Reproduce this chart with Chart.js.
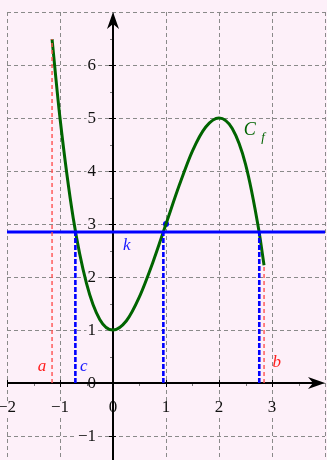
<!DOCTYPE html>
<html>
<head>
<meta charset="utf-8">
<script src="https://cdn.jsdelivr.net/npm/chart.js@4.4.0/dist/chart.umd.min.js"></script>
<style>
  html, body { margin: 0; padding: 0; background: #fdf0f9; }
  #wrap { width: 327px; height: 460px; }
</style>
</head>
<body>
<div id="wrap"><canvas id="graph"></canvas></div>
<script>
// courbe C_f (points relevés)
const curveX = [-1.15, -1, -0.75, -0.5, -0.25, 0, 0.25, 0.5, 0.75, 1, 1.25, 1.5, 1.75, 2, 2.25, 2.5, 2.75, 2.85];
const curveY = [6.49, 5.0, 3.11, 1.88, 1.2, 1.0, 1.17, 1.63, 2.27, 3.0, 3.73, 4.38, 4.83, 5.0, 4.8, 4.13, 2.89, 2.22];

// bornes a et b, niveau k et ses antécédents
const boundsX = [-1.15, 2.85];
const boundsY = [6.49, 2.22];
const kLevel = 2.85;
const kRoots = [-0.71, 0.95, 2.76];
const markPoint = [1, 3];

// graduations
const xTicks = [-2, -1, 0, 1, 2, 3];
const yTicks = [-1, 0, 1, 2, 3, 4, 5, 6];
const gridX = [-2, -1, 0, 1, 2, 3, 4];
const gridY = [-1, 0, 1, 2, 3, 4, 5, 6, 7];

const BG = '#fdf0f9';
const SERIF = "'Liberation Serif', 'DejaVu Serif', serif";

function fmt(v) { return v < 0 ? '\u2212' + Math.abs(v) : String(v); }

const repere = {
  id: 'repere',
  beforeDraw(chart) {
    const { ctx, width, height } = chart;
    ctx.save();
    ctx.fillStyle = BG;
    ctx.fillRect(0, 0, width, height);
    ctx.restore();
  },
  beforeDatasetsDraw(chart) {
    const { ctx } = chart;
    const sx = chart.scales.x, sy = chart.scales.y;
    const X = v => sx.getPixelForValue(v), Y = v => sy.getPixelForValue(v);
    ctx.save();

    // quadrillage
    ctx.strokeStyle = '#8a8a8a';
    ctx.lineWidth = 1;
    ctx.setLineDash([4, 3]);
    gridX.forEach(v => {
      ctx.beginPath();
      ctx.moveTo(Math.round(X(v)) + 0.5, Y(7));
      ctx.lineTo(Math.round(X(v)) + 0.5, chart.height);
      ctx.stroke();
    });
    gridY.forEach(v => {
      ctx.beginPath();
      ctx.moveTo(X(-2), Math.round(Y(v)) + 0.5);
      ctx.lineTo(X(4), Math.round(Y(v)) + 0.5);
      ctx.stroke();
    });
    ctx.setLineDash([]);

    // étiquettes des graduations
    ctx.font = '17px ' + SERIF;
    ctx.textBaseline = 'middle';
    const label = (txt, px, py, align) => {
      ctx.textAlign = align;
      const w = ctx.measureText(txt).width;
      const left = align === 'right' ? px - w : px - w / 2;
      ctx.fillStyle = BG;
      ctx.fillRect(left - 1, py - 7, w + 2, 14);
      ctx.fillStyle = '#111';
      ctx.fillText(txt, px, py);
    };
    xTicks.forEach(v => label(fmt(v), X(v), Y(0) + 25, 'center'));
    yTicks.forEach(v => label(fmt(v), X(0) - 17, Y(v) + 1, 'right'));

    // petites graduations
    ctx.strokeStyle = '#777';
    ctx.lineWidth = 1;
    for (let v = -1.5; v <= 3.5; v += 1) {
      ctx.beginPath();
      ctx.moveTo(Math.round(X(v)) + 0.5, Y(0));
      ctx.lineTo(Math.round(X(v)) + 0.5, Y(0) + 3);
      ctx.stroke();
    }
    for (let v = -1.5; v <= 6.5; v += 1) {
      ctx.beginPath();
      ctx.moveTo(X(0) - 3, Math.round(Y(v)) + 0.5);
      ctx.lineTo(X(0), Math.round(Y(v)) + 0.5);
      ctx.stroke();
    }
    ctx.strokeStyle = '#000';
    xTicks.forEach(v => {
      ctx.beginPath();
      ctx.moveTo(Math.round(X(v)) + 0.5, Y(0) - 3);
      ctx.lineTo(Math.round(X(v)) + 0.5, Y(0) + 4);
      ctx.stroke();
    });
    yTicks.forEach(v => {
      ctx.beginPath();
      ctx.moveTo(X(0) - 4, Math.round(Y(v)) + 0.5);
      ctx.lineTo(X(0) + 3, Math.round(Y(v)) + 0.5);
      ctx.stroke();
    });

    // axes avec flèches
    ctx.strokeStyle = '#000';
    ctx.fillStyle = '#000';
    ctx.lineWidth = 2;
    const ox = X(0), oy = Y(0);
    ctx.beginPath();
    ctx.moveTo(X(-2), oy);
    ctx.lineTo(X(4) - 10, oy);
    ctx.moveTo(ox, chart.height);
    ctx.lineTo(ox, Y(7) + 10);
    ctx.stroke();
    const tipX = X(4), tipY = Y(7);
    ctx.beginPath();
    ctx.moveTo(tipX, oy);
    ctx.lineTo(tipX - 17, oy - 6);
    ctx.lineTo(tipX - 12, oy);
    ctx.lineTo(tipX - 17, oy + 6);
    ctx.closePath();
    ctx.fill();
    ctx.beginPath();
    ctx.moveTo(ox, tipY);
    ctx.lineTo(ox - 6, tipY + 17);
    ctx.lineTo(ox, tipY + 12);
    ctx.lineTo(ox + 6, tipY + 17);
    ctx.closePath();
    ctx.fill();
    ctx.restore();
  },
  afterDatasetsDraw(chart) {
    const { ctx } = chart;
    const X = v => chart.scales.x.getPixelForValue(v), Y = v => chart.scales.y.getPixelForValue(v);
    ctx.save();
    ctx.textAlign = 'center';
    ctx.textBaseline = 'middle';
    ctx.font = 'italic 17px ' + SERIF;
    ctx.fillStyle = '#ff2020';
    ctx.fillText('a', X(-1.34), Y(0.32));
    ctx.fillText('b', X(3.09), Y(0.38));
    ctx.fillStyle = '#1a1aff';
    ctx.fillText('c', X(-0.55), Y(0.32));
    ctx.fillText('k', X(0.26), Y(2.6));
    ctx.fillStyle = '#006400';
    ctx.font = 'italic 18px ' + SERIF;
    ctx.fillText('C', X(2.58), Y(4.77));
    ctx.font = 'italic 13px ' + SERIF;
    ctx.fillText('f', X(2.83), Y(4.64));
    ctx.restore();
  }
};

const redDash = (x, top) => ({
  data: [{ x: x, y: 0 }, { x: x, y: top }],
  borderColor: '#ff5050', borderWidth: 1.4, borderDash: [4, 3],
  pointRadius: 0, showLine: true
});
const blueDash = x => ({
  data: [{ x: x, y: 0 }, { x: x, y: kLevel }],
  borderColor: '#0000ff', borderWidth: 2.6, borderDash: [5, 2],
  pointRadius: 0, showLine: true
});

new Chart(document.getElementById('graph'), {
  type: 'scatter',
  data: {
    datasets: [
      ...boundsX.map((x, i) => redDash(x, boundsY[i])),
      ...kRoots.map(blueDash),
      {
        data: [{ x: -2, y: kLevel }, { x: 4, y: kLevel }],
        borderColor: '#0000ff', borderWidth: 3,
        pointRadius: 0, showLine: true
      },
      {
        data: curveX.map((x, i) => ({ x: x, y: curveY[i] })),
        borderColor: '#006400', borderWidth: 3,
        cubicInterpolationMode: 'monotone',
        pointRadius: 0, showLine: true
      },
      {
        data: [{ x: markPoint[0], y: markPoint[1] }],
        backgroundColor: '#0000ff', borderWidth: 0,
        pointRadius: 3
      }
    ]
  },
  options: {
    responsive: true,
    maintainAspectRatio: false,
    animation: false,
    layout: { padding: 0, autoPadding: false },
    plugins: { legend: { display: false }, tooltip: { enabled: false } },
    scales: {
      x: { type: 'linear', min: -113 / 53, max: 214 / 53, display: false },
      y: { type: 'linear', min: -77 / 53, max: 383 / 53, display: false }
    }
  },
  plugins: [repere]
});
</script>
</body>
</html>
